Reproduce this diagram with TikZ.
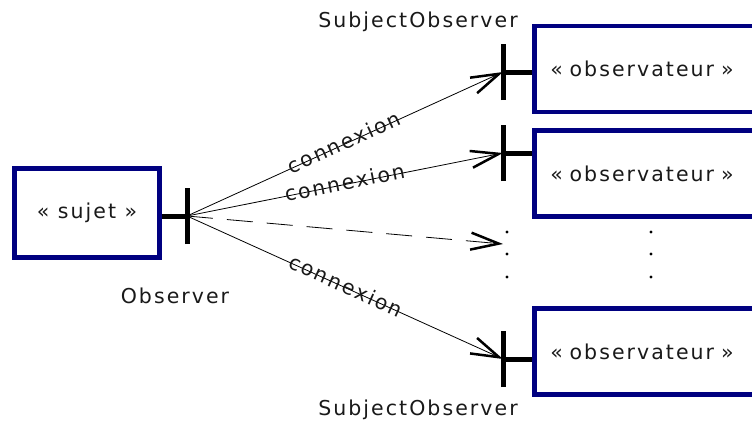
\documentclass[tikz,border=0pt]{standalone}
\usepackage{fontspec}
\setmainfont{DejaVu Sans}[LetterSpace=10]
\usetikzlibrary{arrows.meta}

\definecolor{boxblue}{RGB}{0,0,128}
\def \barHalf {28}
\def \dotSize {1.6pt}

\tikzset{
  umlbox/.style={draw=boxblue, line width=4.5pt, text=black!90},
  obsbox/.style={umlbox, anchor=west, minimum width=260pt, minimum height=86pt,
    text width=228pt, inner xsep=16pt, align=left},
  port/.style={line width=5pt},
  conn/.style={line width=0.8pt, -{Straight Barb[length=28pt,width=17pt,line width=2.5pt]}},
  lbl/.style={text=black!90, font=\fontsize{20.5}{24}\selectfont},
  onwire/.style={lbl, midway, sloped, anchor=base, yshift=-5.5pt, inner sep=0pt},
}

\begin{document}
\begin{tikzpicture}[x=1pt, y=-1pt, font=\fontsize{20.5}{24}\selectfont]
            \useasboundingbox (0,0) rectangle (752,421);
            \clip (0,0) rectangle (752,421);
            % boxes
            \node[umlbox, minimum width=145pt, minimum height=89pt] (sujet) at (87,213) {« sujet »};
            \node[obsbox] (obsA) at (532,69) {« observateur »};
            \node[obsbox] (obsB) at (532,173.5) {« observateur »};
            \node[obsbox] (obsC) at (532,351.5) {« observateur »};
            % ports
            \coordinate (portS) at (187,216);
            \coordinate (portA) at (503,72);
            \coordinate (portB) at (503,153);
            \coordinate (portC) at (503,359);
            \coordinate (portD) at (503,244);
            \draw[port] (sujet.east |- portS) -- (portS);
            \draw[port] (portA) -- (obsA.west |- portA);
            \draw[port] (portB) -- (obsB.west |- portB);
            \draw[port] (portC) -- (obsC.west |- portC);
            \foreach \p in {portS, portA, portB, portC}
              \draw[port] ([yshift=-\barHalf pt]\p) -- ([yshift=\barHalf pt]\p);
            % connexions
            \draw[conn] (portS) -- (portA) node[onwire] {connexion};
            \draw[conn] (portS) -- (portB) node[onwire] {connexion};
            \draw[conn] (portS) -- (portC) node[onwire] {connexion};
            \draw[conn, dash pattern=on 26pt off 14pt] (portS) -- (portD);
            % more observers
            \foreach \y in {232, 254, 277} {
              \fill (507,\y) circle (\dotSize);
              \fill (651,\y) circle (\dotSize);
            }
            % labels
            \node[lbl] (lblObs) at (175,296) {Observer};
            \node[lbl] (lblTop) at (418,22) {SubjectObserver};
            \node[lbl] (lblBot) at (418,410) {SubjectObserver};
         \end{tikzpicture}
\end{document}
